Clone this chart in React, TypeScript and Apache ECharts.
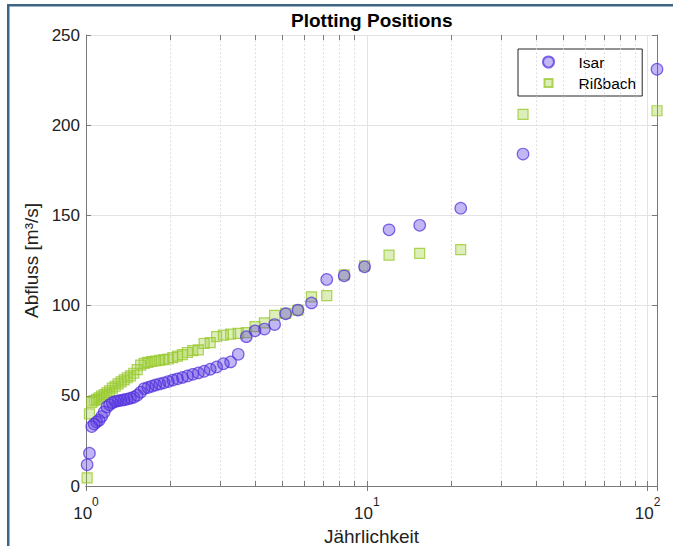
import React, { useEffect, useRef } from 'react';
import * as echarts from 'echarts';

// Return period (Jährlichkeit) of each ranked event
const returnPeriods = [
  108, 36, 21.6, 15.4286, 12, 9.8182, 8.3077, 7.2, 6.3529, 5.6842,
  5.1429, 4.6957, 4.32, 4, 3.7241, 3.4839, 3.2727, 3.0857, 2.9189, 2.7692,
  2.6341, 2.5116, 2.4, 2.2979, 2.2041, 2.1176, 2.0377, 1.9636, 1.8947, 1.8305,
  1.7705, 1.7143, 1.6615, 1.6119, 1.5652, 1.5211, 1.4795, 1.44, 1.4026, 1.3671,
  1.3333, 1.3012, 1.2706, 1.2414, 1.2135, 1.1868, 1.1613, 1.1368, 1.1134, 1.0909,
  1.0693, 1.0485, 1.0286, 1.0093,
];

// Abfluss [m³/s], ranked descending
const isarFlow = [
  231, 184, 154, 144.5, 142, 121.5, 116.5, 114.5, 101.5, 97.5,
  95.5, 89.5, 87, 86, 82.8, 73, 68.8, 67.8, 66, 64.7,
  63.6, 62.7, 61.9, 61, 60.2, 59.4, 58.7, 57.9, 57.2, 56.6,
  56, 55.3, 54.6, 54, 52, 50.3, 49.2, 48.7, 48.2, 47.8,
  47.5, 47.2, 46.8, 46.2, 45, 43.8, 41, 38.5, 36.5, 35.5,
  34.3, 33, 18.2, 11.8,
];

const rissbachFlow = [
  208, 206, 131, 129, 128, 122, 117, 105.5, 104.8, 97.5,
  95.7, 94.6, 90.4, 88.4, 85, 84.6, 84.2, 83.6, 82.8, 79.5,
  79, 75.5, 75, 74, 72.8, 72, 71.2, 70.4, 70, 69.7,
  69.3, 69, 68.5, 68, 67, 64.5, 62.5, 61, 60, 58.8,
  57.7, 56.6, 55.3, 54.2, 52.8, 51.6, 50.6, 49.8, 48.8, 48,
  47.3, 46.3, 40, 4.5,
];

const seriesNames = ['Isar', 'Rißbach'];
const minorXTicks = [2, 3, 4, 5, 6, 7, 8, 9, 20, 30, 40, 50, 60, 70, 80, 90];
const xRange = [1, 108];
const yRange = [0, 250];
const yStep = 50;

export default function App() {
  const ref = useRef<HTMLDivElement>(null);

  useEffect(() => {
    const chart = echarts.init(ref.current!, null, { renderer: 'svg' });
    const font = "'Liberation Sans', Arial, Helvetica, sans-serif";
    const axisGray = '#7a7a7a';
    const isarData = returnPeriods.map((t, i) => [t, isarFlow[i]]);
    const rissData = returnPeriods.map((t, i) => [t, rissbachFlow[i]]);

    const tickLen = (yRange[1] - yRange[0]) * 5 / 451;
    const minorTickSegs: any[] = [];
    minorXTicks.forEach((v) => {
      minorTickSegs.push([{ coord: [v, yRange[0]] }, { coord: [v, yRange[0] + tickLen] }]);
      minorTickSegs.push([{ coord: [v, yRange[1] - tickLen] }, { coord: [v, yRange[1]] }]);
    });

    const supFormatter = (v: number) => {
      const e = Math.round(Math.log10(v));
      return '{b|10}{s|' + e + '}';
    };

    const option: any = {
      animation: false,
      backgroundColor: '#ffffff',
      textStyle: { fontFamily: font },
      title: {
        text: 'Plotting Positions',
        left: 291,
        top: 11,
        padding: 0,
        textStyle: { fontFamily: font, fontSize: 19, fontWeight: 'bold', color: '#000' },
      },
      grid: { left: 86, right: 16, top: 35, bottom: 60, containLabel: false, outerBoundsMode: 'none' },
      legend: {
        orient: 'vertical',
        left: 518,
        top: 49,
        padding: [5, 6, 5, 24],
        itemGap: 5,
        itemWidth: 50,
        itemHeight: 11,
        borderColor: '#262626',
        borderWidth: 1,
        backgroundColor: '#ffffff',
        textStyle: { fontFamily: font, fontSize: 15.5, lineHeight: 16, color: '#000' },
        data: [
          { name: seriesNames[0], icon: 'circle' },
          { name: seriesNames[1], icon: 'path://M0 0M11 11M1.5 1.5h8v8h-8z' },
        ],
      },
      xAxis: [
        {
          type: 'log',
          logBase: 10,
          min: xRange[0],
          max: xRange[1],
          name: 'Jährlichkeit',
          nameLocation: 'middle',
          nameGap: 37,
          nameTextStyle: { fontFamily: font, fontSize: 19, lineHeight: 20, color: '#222' },
          axisLine: { show: true, lineStyle: { color: axisGray, width: 1 } },
          axisTick: { show: true, inside: true, length: 5, lineStyle: { color: axisGray } },
          axisLabel: {
            show: true,
            margin: 10,
            showMaxLabel: false,
            formatter: supFormatter,
            rich: {
              b: { fontFamily: font, fontSize: 17, color: '#222', lineHeight: 26, verticalAlign: 'bottom' },
              s: { fontFamily: font, fontSize: 12, color: '#222', lineHeight: 10, verticalAlign: 'top' },
            },
          },
          splitLine: { show: true, lineStyle: { color: '#e3e3e3', width: 1 } },
        },
        {
          type: 'log',
          logBase: 10,
          min: xRange[0],
          max: xRange[1],
          position: 'top',
          axisLine: { show: true, lineStyle: { color: axisGray, width: 1 } },
          axisTick: { show: true, inside: true, length: 5, lineStyle: { color: axisGray } },
          axisLabel: { show: false },
          splitLine: { show: false },
        },
      ],
      yAxis: [
        {
          type: 'value',
          min: yRange[0],
          max: yRange[1],
          interval: yStep,
          name: 'Abfluss [m³/s]',
          nameLocation: 'middle',
          nameGap: 42,
          nameRotate: 90,
          nameTextStyle: { fontFamily: font, fontSize: 19, color: '#222' },
          axisLine: { show: true, lineStyle: { color: axisGray, width: 1 } },
          axisTick: { show: true, inside: true, length: 5, lineStyle: { color: axisGray } },
          axisLabel: { margin: 6, fontFamily: font, fontSize: 17, color: '#222' },
          splitLine: { show: true, lineStyle: { color: '#e3e3e3', width: 1 } },
        },
        {
          type: 'value',
          min: yRange[0],
          max: yRange[1],
          interval: yStep,
          position: 'right',
          axisLine: { show: true, lineStyle: { color: axisGray, width: 1 } },
          axisTick: { show: true, inside: true, length: 5, lineStyle: { color: axisGray } },
          axisLabel: { show: false },
          splitLine: { show: false },
        },
      ],
      series: [
        {
          name: 'minorGrid',
          type: 'scatter',
          xAxisIndex: 0,
          yAxisIndex: 0,
          data: [],
          z: 1,
          silent: true,
          markLine: {
            silent: true,
            symbol: ['none', 'none'],
            label: { show: false },
            lineStyle: { type: [1.5, 2.5], color: '#d6d6d6', width: 1 },
            emphasis: { disabled: true },
            data: minorXTicks.map((v) => ({ xAxis: v })),
          },
        },
        {
          name: 'minorTicks',
          type: 'scatter',
          xAxisIndex: 0,
          yAxisIndex: 0,
          data: [],
          z: 3,
          silent: true,
          markLine: {
            silent: true,
            symbol: ['none', 'none'],
            label: { show: false },
            lineStyle: { type: 'solid', color: axisGray, width: 1 },
            emphasis: { disabled: true },
            data: minorTickSegs,
          },
        },
        {
          name: seriesNames[1],
          type: 'scatter',
          xAxisIndex: 0,
          yAxisIndex: 0,
          symbol: 'rect',
          symbolSize: 10,
          z: 4,
          itemStyle: {
            color: 'rgba(154,205,50,0.42)',
            borderColor: 'rgba(150,200,40,0.95)',
            borderWidth: 1.2,
          },
          data: rissData,
        },
        {
          name: seriesNames[0],
          type: 'scatter',
          xAxisIndex: 0,
          yAxisIndex: 0,
          symbol: 'circle',
          symbolSize: 11.5,
          z: 5,
          itemStyle: {
            color: 'rgba(85,55,225,0.45)',
            borderColor: 'rgba(80,45,220,0.9)',
            borderWidth: 1.2,
          },
          data: isarData,
        },
      ],
      graphic: [
        { type: 'rect', left: 7, top: 4, shape: { width: 666, height: 2.5 }, style: { fill: '#3e6684' }, silent: true },
        { type: 'rect', left: 7, top: 4, shape: { width: 2.5, height: 542 }, style: { fill: '#3e6684' }, silent: true },
      ],
    };

    chart.setOption(option);
    return () => chart.dispose();
  }, []);

  return (
    <div
      ref={ref}
      style={{ position: 'absolute', left: 0, top: 0, width: 673, height: 546, background: '#fff' }}
    />
  );
}
